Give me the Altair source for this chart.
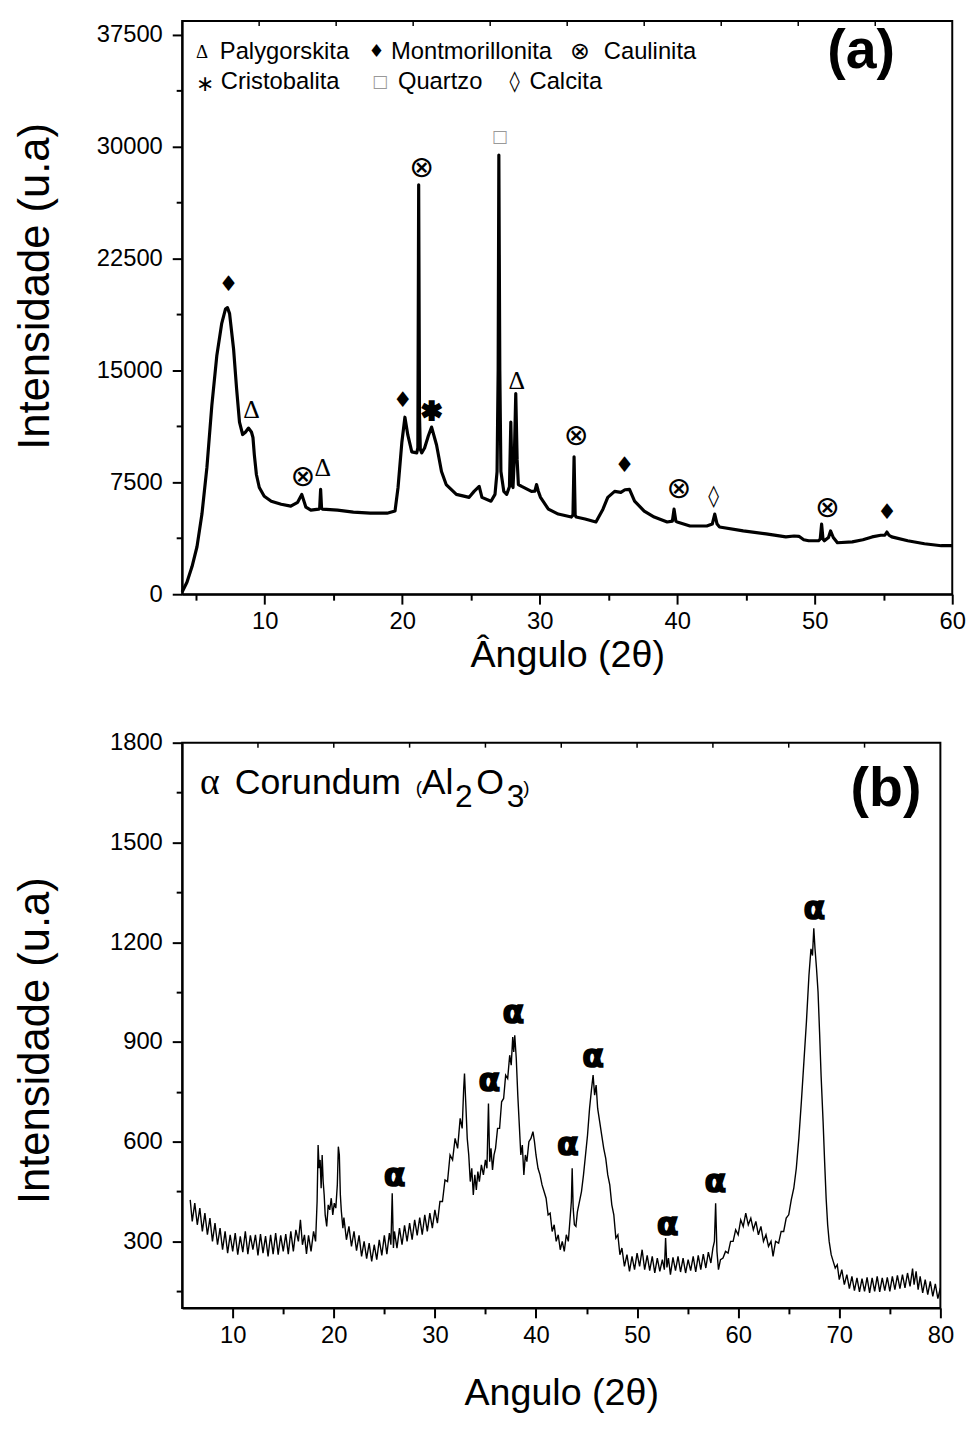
import altair as alt
import pandas as pd

FONT = "Liberation Sans"

# ---------------- Panel (a): clay XRD pattern (angle, intensity) ----------------
a_points = [
    (4.0, 150), (4.35, 800), (4.72, 1850), (5.08, 3180), (5.44, 5370), (5.8, 8480),
    (6.16, 12650), (6.52, 15970), (6.88, 18150), (7.15, 19100), (7.3, 19200), (7.45, 18800),
    (7.74, 16430), (7.96, 13780), (8.17, 11530), (8.4, 10700), (8.6, 10850), (8.82, 11130),
    (9.04, 10870), (9.15, 10500), (9.25, 9340), (9.4, 8020), (9.61, 7150), (9.97, 6560),
    (10.48, 6230), (11.2, 6030), (11.9, 5900), (12.4, 6160), (12.7, 6690), (13.0, 5830),
    (13.36, 5630), (13.93, 5700), (14.0, 5750), (14.07, 7020), (14.14, 5750), (14.2, 5700),
    (15.3, 5630), (16.45, 5500), (17.68, 5430), (18.9, 5430), (19.48, 5570), (19.7, 7150),
    (19.98, 10200), (20.2, 11860), (20.41, 10670), (20.7, 9540), (21.06, 9470), (21.14, 9800),
    (21.2, 27430), (21.26, 12000), (21.32, 9700), (21.42, 9470), (21.63, 9800), (21.9, 10600),
    (22.14, 11200), (22.5, 10000), (22.86, 8220), (23.2, 7350), (23.94, 6690), (24.87, 6490),
    (25.23, 6890), (25.6, 7220), (25.8, 6490), (26.46, 6230), (26.75, 6690), (26.9, 8220),
    (26.98, 15000), (27.03, 29420), (27.1, 15000), (27.18, 8220), (27.39, 6890), (27.6, 6690),
    (27.8, 7200), (27.9, 11530), (28.0, 7300), (28.06, 7150), (28.15, 9000), (28.26, 13450),
    (28.36, 9000), (28.45, 7350), (28.69, 7220), (29.4, 6890), (29.65, 6900), (29.77, 7350),
    (29.9, 6900), (30.06, 6490), (30.63, 5700), (31.35, 5370), (32.3, 5170), (32.42, 5300),
    (32.5, 9210), (32.58, 5300), (32.65, 5170), (33.3, 5040), (34.09, 4840), (34.6, 5700),
    (34.95, 6490), (35.45, 6890), (35.9, 6820), (36.2, 7000), (36.53, 7020), (36.9, 6230),
    (37.6, 5570), (38.33, 5170), (39.27, 4840), (39.65, 4900), (39.77, 5700), (39.9, 4900),
    (40.0, 4840), (40.93, 4570), (42.15, 4570), (42.55, 4700), (42.73, 5370), (42.9, 4700),
    (43.08, 4500), (44.8, 4240), (46.47, 4040), (47.9, 3840), (48.5, 3900), (48.85, 3880),
    (49.2, 3650), (49.56, 3580), (50.28, 3580), (50.4, 3700), (50.5, 4700), (50.6, 3700),
    (50.7, 3580), (51.0, 3800), (51.15, 4240), (51.35, 3800), (51.65, 3450), (52.73, 3510),
    (53.5, 3650), (54.17, 3840), (54.8, 3950), (55.1, 3950), (55.25, 4170), (55.4, 3950),
    (55.6, 3840), (56.76, 3580), (57.98, 3380), (59.2, 3250), (60.0, 3250),
]

# peak markers on panel (a)
a_sym_label = ["♦", "Δ", "⊗", "Δ", "♦", "✱", "⊗", "□", "Δ", "⊗", "♦", "⊗", "◊", "⊗", "♦"]
a_sym_angle = [7.38, 9.04, 12.78, 14.22, 20.05, 22.14, 21.42, 27.1, 28.33, 32.65, 36.17, 40.13, 42.65, 50.93, 55.25]
a_sym_intensity = [20800, 12320, 7820, 8480, 12990, 12190, 28560, 30610, 14310, 10600, 8680, 7020, 6560, 5760, 5500]

# in-plot key of panel (a)
key_words = ["Palygorskita", "Montmorillonita", "Caulinita", "Cristobalita", "Quartzo", "Calcita"]
key_word_angle = [6.74, 19.19, 34.66, 6.81, 19.69, 29.26]
key_word_intensity = [36308, 36308, 36308, 34320, 34320, 34320]
key_syms = ["Δ", "♦", "⊗", "∗", "□", "◊"]
key_sym_angle = [5.0, 17.55, 32.2, 5.0, 17.8, 27.8]
key_sym_intensity = [36308, 36308, 36308, 34200, 34320, 34320]

a_xticks = [5, 10, 15, 20, 25, 30, 35, 40, 45, 50, 55, 60]
a_yticks = [0, 3750, 7500, 11250, 15000, 18750, 22500, 26250, 30000, 33750, 37500]
a_top_ticks = [9.6, 15.2, 20.8, 26.4, 32.0, 37.6, 43.2, 48.8, 54.4]

# ---------------- Panel (b): fired sample XRD pattern ----------------
b_points = [
    (5.8, 425), (6.0, 360), (6.25, 415), (6.5, 350), (6.75, 400), (7.0, 330), (7.25, 385),
    (7.5, 320), (7.75, 370), (8.0, 300), (8.25, 355), (8.5, 290), (8.75, 340), (9.0, 275),
    (9.25, 330), (9.5, 265), (9.75, 320), (10.0, 270), (10.25, 325), (10.5, 260), (10.75, 315),
    (11.0, 268), (11.25, 330), (11.5, 262), (11.75, 318), (12.0, 275), (12.25, 320), (12.5, 258),
    (12.75, 322), (13.0, 265), (13.25, 316), (13.5, 255), (13.75, 320), (14.0, 262), (14.25, 325),
    (14.5, 260), (14.75, 318), (15.0, 270), (15.25, 322), (15.5, 262), (15.75, 330), (16.0, 270),
    (16.25, 335), (16.5, 300), (16.7, 365), (16.9, 290), (17.1, 320), (17.3, 262), (17.5, 318),
    (17.75, 270), (18.0, 330), (18.2, 300), (18.35, 420), (18.45, 590), (18.55, 520), (18.65, 545),
    (18.75, 460), (18.85, 560), (18.95, 480), (19.05, 440), (19.15, 380), (19.3, 345), (19.45, 410),
    (19.6, 395), (19.75, 430), (19.9, 380), (20.05, 415), (20.2, 400), (20.35, 470), (20.45, 585),
    (20.55, 560), (20.65, 440), (20.75, 390), (20.9, 340), (21.0, 372), (21.25, 305), (21.5, 345),
    (21.75, 285), (22.0, 330), (22.25, 272), (22.5, 318), (22.75, 255), (23.0, 300), (23.25, 248),
    (23.5, 295), (23.75, 240), (24.0, 290), (24.25, 245), (24.5, 305), (24.75, 258), (25.0, 318),
    (25.25, 262), (25.5, 325), (25.65, 290), (25.78, 445), (25.9, 280), (26.0, 330), (26.25, 280),
    (26.5, 340), (26.75, 290), (27.0, 348), (27.25, 300), (27.5, 355), (27.75, 305), (28.0, 365),
    (28.25, 318), (28.5, 372), (28.75, 320), (29.0, 380), (29.25, 330), (29.5, 385), (29.75, 340),
    (30.0, 395), (30.25, 355), (30.5, 420), (30.75, 420), (31.0, 485), (31.25, 480), (31.5, 560),
    (31.75, 545), (32.0, 610), (32.25, 580), (32.5, 670), (32.7, 640), (32.85, 760), (32.93, 805),
    (33.05, 720), (33.2, 610), (33.35, 560), (33.5, 480), (33.65, 520), (33.8, 440), (33.95, 500),
    (34.1, 455), (34.25, 510), (34.4, 480), (34.6, 530), (34.8, 500), (35.0, 545), (35.15, 520),
    (35.3, 715), (35.42, 540), (35.55, 580), (35.7, 515), (35.85, 560), (36.0, 580), (36.2, 640),
    (36.4, 640), (36.6, 720), (36.8, 730), (37.0, 800), (37.2, 790), (37.4, 860), (37.55, 830),
    (37.7, 915), (37.8, 870), (37.9, 920), (38.05, 850), (38.2, 740), (38.35, 650), (38.5, 560),
    (38.65, 590), (38.8, 500), (38.95, 560), (39.1, 540), (39.3, 600), (39.5, 610), (39.7, 630),
    (39.85, 600), (40.0, 560), (40.2, 520), (40.4, 500), (40.6, 470), (40.8, 450), (41.0, 430),
    (41.2, 380), (41.4, 385), (41.6, 330), (41.8, 350), (42.0, 300), (42.2, 320), (42.4, 275),
    (42.6, 300), (42.8, 270), (43.0, 320), (43.2, 300), (43.35, 360), (43.5, 420), (43.58, 520),
    (43.68, 400), (43.8, 350), (43.95, 345), (44.1, 390), (44.3, 420), (44.5, 450), (44.7, 500),
    (44.9, 560), (45.1, 620), (45.3, 700), (45.5, 760), (45.65, 800), (45.8, 740), (45.95, 770),
    (46.1, 700), (46.3, 660), (46.5, 620), (46.7, 580), (46.9, 550), (47.1, 500), (47.3, 470),
    (47.5, 410), (47.7, 380), (47.9, 310), (48.1, 320), (48.3, 260), (48.5, 280), (48.75, 225),
    (49.0, 260), (49.25, 210), (49.5, 255), (49.75, 215), (50.0, 265), (50.25, 225), (50.5, 275),
    (50.75, 215), (51.0, 258), (51.25, 212), (51.5, 255), (51.75, 205), (52.0, 250), (52.25, 210),
    (52.5, 245), (52.7, 215), (52.82, 310), (52.95, 222), (53.1, 250), (53.3, 200), (53.55, 252),
    (53.8, 212), (54.05, 255), (54.3, 208), (54.55, 250), (54.8, 205), (55.05, 245), (55.3, 212),
    (55.55, 255), (55.8, 208), (56.05, 258), (56.3, 215), (56.55, 262), (56.8, 220), (57.05, 268),
    (57.3, 235), (57.5, 280), (57.65, 300), (57.77, 415), (57.9, 270), (58.05, 215), (58.25, 245),
    (58.5, 250), (58.75, 270), (59.0, 265), (59.25, 300), (59.5, 300), (59.75, 335), (60.0, 320),
    (60.25, 365), (60.5, 345), (60.75, 385), (61.0, 350), (61.25, 370), (61.5, 335), (61.75, 360),
    (62.0, 320), (62.25, 345), (62.5, 300), (62.75, 320), (63.0, 285), (63.25, 300), (63.45, 255),
    (63.7, 300), (64.0, 295), (64.25, 330), (64.5, 330), (64.75, 370), (65.0, 380), (65.25, 425),
    (65.5, 460), (65.75, 520), (66.0, 610), (66.25, 720), (66.5, 840), (66.75, 960), (67.0, 1100),
    (67.2, 1180), (67.35, 1160), (67.48, 1242), (67.6, 1180), (67.75, 1120), (67.9, 1050),
    (68.05, 930), (68.2, 800), (68.4, 660), (68.55, 540), (68.7, 430), (68.85, 350), (69.0, 300),
    (69.2, 260), (69.4, 240), (69.6, 220), (69.8, 230), (70.0, 185), (70.25, 215), (70.5, 170),
    (70.75, 200), (71.0, 158), (71.25, 195), (71.5, 152), (71.75, 190), (72.0, 148), (72.25, 188),
    (72.5, 150), (72.75, 192), (73.0, 145), (73.25, 190), (73.5, 150), (73.75, 195), (74.0, 148),
    (74.25, 190), (74.5, 152), (74.75, 192), (75.0, 150), (75.25, 195), (75.5, 155), (75.75, 198),
    (76.0, 158), (76.25, 200), (76.5, 160), (76.75, 205), (77.0, 165), (77.25, 218), (77.4, 170),
    (77.6, 210), (77.8, 155), (78.0, 195), (78.25, 145), (78.5, 185), (78.75, 140), (79.0, 180),
    (79.25, 135), (79.5, 172), (79.75, 128), (80.0, 160),
]

b_alpha_angle = [26.02, 35.38, 37.77, 43.16, 45.66, 53.01, 57.75, 67.54]
b_alpha_intensity = [497, 783, 986, 589, 855, 348, 479, 1300]

# "α Corundum (Al2O3)" pieces: text, angle (left edge), baseline intensity, size, font
title_b_text = ["α", "Corundum", "(", "Al", "2", "O", "3", ")"]
title_b_angle = [6.76, 10.2, 28.1, 28.7, 32.0, 34.1, 37.1, 38.75]
title_b_intensity = [1645, 1645, 1645, 1645, 1606, 1645, 1606, 1645]
title_b_size = [38, 36, 19, 36, 32, 36, 32, 19]
title_b_font = ["Liberation Serif", FONT, FONT, FONT, FONT, FONT, FONT, FONT]

b_xticks = [10, 15, 20, 25, 30, 35, 40, 45, 50, 55, 60, 65, 70, 75, 80]
b_yticks = [150, 300, 450, 600, 750, 900, 1050, 1200, 1350, 1500, 1650, 1800]
b_top_ticks = [12.5, 20.0, 27.5, 35.0, 42.5, 50.0, 57.5, 65.0, 72.5]

# ---------------- helpers ----------------
def tick_axis(values, major, title_x=None, title_y=None, label_padding=None, title_padding=None):
    kw = dict(
        values=values,
        format="d",
        labelExpr=f"datum.value % {major} === 0 ? datum.label : ''",
        tickSize={"condition": {"test": f"datum.value % {major} === 0", "value": 10}, "value": 6},
        labelFlush=False,
        labelOverlap=False,
        grid=False,
    )
    if title_x is not None:
        kw["titleX"] = title_x
        kw["titleFontSize"] = 44
    if title_y is not None:
        kw["titleY"] = title_y
    if label_padding is not None:
        kw["labelPadding"] = label_padding
    if title_padding is not None:
        kw["titlePadding"] = title_padding
    return alt.Axis(**kw)


def text_layer(df, x_enc, y_enc, font, weight="normal", align="center", baseline="middle",
               stroke=None, stroke_width=0):
    kw = dict(font=font, fontWeight=weight, align=align, baseline=baseline)
    if stroke is not None:
        kw["stroke"] = stroke
        kw["strokeWidth"] = stroke_width
    return alt.Chart(df).mark_text(**kw).encode(
        x=x_enc, y=y_enc, text="label:N",
        size=alt.Size("fs:Q", scale=None),
        color=alt.Color("col:N", scale=None, legend=None),
    )


# ---------------- panel (a) ----------------
W_A, H_A = 778, 579
df_a = pd.DataFrame(a_points, columns=["angle", "intensity"])

x_a = alt.X("angle:Q", title="Ângulo (2θ)",
            scale=alt.Scale(domain=[4, 60], nice=False, zero=False),
            axis=tick_axis(a_xticks, 10, title_padding=3))
y_a = alt.Y("intensity:Q", title="Intensidade (u.a)",
            scale=alt.Scale(domain=[0, 38400], nice=False, zero=False),
            axis=tick_axis(a_yticks, 7500, title_x=-126, title_y=H_A / 2 - 22, label_padding=10))

line_a = alt.Chart(df_a).mark_line(color="black", strokeWidth=3.2, strokeJoin="round").encode(x=x_a, y=y_a)

top_a = alt.Chart(pd.DataFrame({"angle": a_top_ticks})).mark_rule(color="black", strokeWidth=1.5).encode(
    x=x_a, y=alt.value(0), y2=alt.value(5))

sym_size = {"♦": 22, "Δ": 26, "⊗": 30, "✱": 26, "□": 17, "◊": 22}
sym_df = pd.DataFrame({"angle": a_sym_angle, "intensity": a_sym_intensity, "label": a_sym_label})
sym_df["fs"] = sym_df["label"].map(sym_size)
sym_df["col"] = ["#999999" if s == "□" else "black" for s in a_sym_label]
sym_delta = sym_df[sym_df["label"] == "Δ"]
sym_star = sym_df[sym_df["label"] == "✱"]
sym_other = sym_df[~sym_df["label"].isin(["Δ", "✱"])]

key_sym_size = {"Δ": 19, "♦": 18, "⊗": 24, "∗": 22, "□": 17, "◊": 21}
key_sym_df = pd.DataFrame({"angle": key_sym_angle, "intensity": key_sym_intensity, "label": key_syms})
key_sym_df["fs"] = key_sym_df["label"].map(key_sym_size)
key_sym_df["col"] = ["#999999" if s == "□" else "black" for s in key_syms]
key_delta = key_sym_df[key_sym_df["label"] == "Δ"]
key_other = key_sym_df[key_sym_df["label"] != "Δ"]

key_word_df = pd.DataFrame({"angle": key_word_angle, "intensity": key_word_intensity, "label": key_words})
key_word_df["fs"] = 24
key_word_df["col"] = "black"

tag_a = pd.DataFrame({"angle": [53.38], "intensity": [36375], "label": ["(a)"], "fs": [56], "col": ["black"]})

panel_a = alt.layer(
    line_a,
    top_a,
    text_layer(sym_other, x_a, y_a, "DejaVu Sans"),
    text_layer(sym_delta, x_a, y_a, "Liberation Serif"),
    text_layer(sym_star, x_a, y_a, "DejaVu Sans", stroke="black", stroke_width=2),
    text_layer(key_other, x_a, y_a, "DejaVu Sans", align="left"),
    text_layer(key_delta, x_a, y_a, "Liberation Serif", align="left"),
    text_layer(key_word_df, x_a, y_a, FONT, align="left"),
    text_layer(tag_a, x_a, y_a, FONT, weight="bold"),
).properties(width=W_A, height=H_A)

# ---------------- panel (b) ----------------
W_B, H_B = 766, 571
df_b = pd.DataFrame(b_points, columns=["angle", "intensity"])

x_b = alt.X("angle:Q", title="Angulo (2θ)",
            scale=alt.Scale(domain=[5, 80], nice=False, zero=False),
            axis=tick_axis(b_xticks, 10, title_padding=28))
y_b = alt.Y("intensity:Q", title="Intensidade (u.a)",
            scale=alt.Scale(domain=[100, 1800], nice=False, zero=False),
            axis=tick_axis(b_yticks, 300, title_x=-126, title_y=H_B / 2 + 15, label_padding=10))

line_b = alt.Chart(df_b).mark_line(color="black", strokeWidth=1.4).encode(x=x_b, y=y_b)

top_b = alt.Chart(pd.DataFrame({"angle": b_top_ticks})).mark_rule(color="black", strokeWidth=1.5).encode(
    x=x_b, y=alt.value(0), y2=alt.value(5))

alpha_df = pd.DataFrame({"angle": b_alpha_angle, "intensity": b_alpha_intensity,
                         "label": ["α"] * len(b_alpha_angle)})
alpha_df["fs"] = 32
alpha_df["col"] = "black"

tb = pd.DataFrame({"angle": title_b_angle, "intensity": title_b_intensity, "label": title_b_text,
                   "fs": title_b_size, "font": title_b_font})
tb["col"] = "black"
tb_serif = tb[tb["font"] == "Liberation Serif"]
tb_sans = tb[tb["font"] == FONT]

tag_b = pd.DataFrame({"angle": [74.62], "intensity": [1660], "label": ["(b)"], "fs": [56], "col": ["black"]})

panel_b = alt.layer(
    line_b,
    top_b,
    text_layer(alpha_df, x_b, y_b, "DejaVu Sans", weight="bold", stroke="black", stroke_width=1.5),
    text_layer(tb_serif, x_b, y_b, "Liberation Serif", align="left", baseline="alphabetic"),
    text_layer(tb_sans, x_b, y_b, FONT, align="left", baseline="alphabetic"),
    text_layer(tag_b, x_b, y_b, FONT, weight="bold"),
).properties(width=W_B, height=H_B)

chart = alt.vconcat(panel_a, panel_b, spacing=55).properties(
    padding={"left": 12, "top": 12, "right": 10, "bottom": 5},
    background="white",
).configure_view(
    stroke="black", strokeWidth=2
).configure_axis(
    domainColor="black", domainWidth=2, tickColor="black", tickWidth=2,
    labelColor="black", titleColor="black", labelFont=FONT, titleFont=FONT,
    labelFontSize=24, titleFontSize=38, titleFontWeight="normal",
    labelPadding=6, titlePadding=6,
)

chart.save("out.html", embed_options={"renderer": "svg", "actions": False})
